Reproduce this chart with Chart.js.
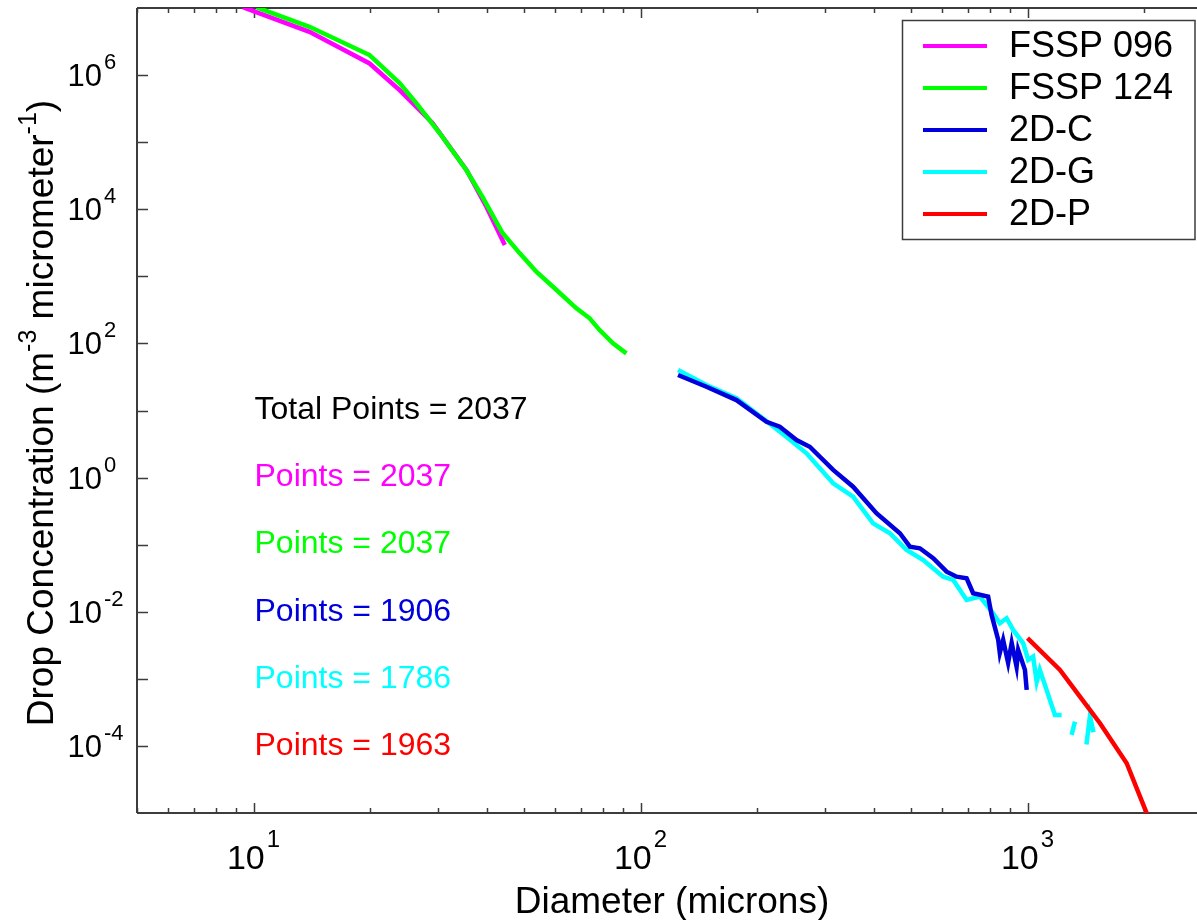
<!DOCTYPE html>
<html>
<head>
<meta charset="utf-8">
<script src="https://cdn.jsdelivr.net/npm/chart.js@4.4.1/dist/chart.umd.min.js"></script>
<style>
html,body{margin:0;padding:0;background:#fff;overflow:hidden;}
#c{display:block;}
</style>
</head>
<body>
<canvas id="c" width="1197" height="920"></canvas>
<script>
// ---- data ----
const seriesLabels = ['FSSP 096', 'FSSP 124', '2D-C', '2D-G', '2D-P'];
const seriesColors = ['#FF00FF', '#00FF00', '#0000DD', '#00FFFF', '#FF0000'];
const pointCounts = [2037, 2037, 1906, 1786, 1963];
const totalPoints = 2037;

const diamFSSP096 = [9.4, 9.57, 13.95, 19.95, 23.85, 29.0, 35.5, 40.0, 44.6];
const concFSSP096 = [1.03e7, 9.87e6, 4.42e6, 1.49e6, 5.97e5, 1.93e5, 3.84e4, 1.08e4, 2.93e3];

const diamFSSP124 = [10.2, 10.36, 13.95, 19.95, 23.85, 26.34, 30.26, 35.47, 39.08, 44.0, 48.7, 53.8, 59.4, 68.3, 73.9, 78.4, 84.9, 91.9];
const concFSSP124 = [1.03e7, 9.87e6, 5.25e6, 1.99e6, 7.6e5, 3.83e5, 1.37e5, 3.84e4, 1.52e4, 4.42e3, 2.22e3, 1.17e3, 700, 334, 237, 158, 100, 71];

const diam2DC = [125, 148, 177, 211.6, 229, 253, 273.7, 314.6, 354.2, 407, 468, 496.6, 527, 570.5, 617.9, 655.6, 696, 723.6, 791, 807.5, 840, 848, 865, 891, 910, 937, 946, 984.7, 995];
const conc2DC = [33.8, 22.6, 14.3, 6.80, 5.74, 3.63, 2.88, 1.30, 0.731, 0.294, 0.148, 0.0933, 0.0883, 0.0627, 0.0396, 0.0333, 0.0316, 0.0189, 0.0168, 0.00896, 0.0038, 0.00243, 0.0038, 0.00173, 0.00343, 0.00152, 0.0027, 0.00136, 0.000684];

const diam2DG = [125, 148, 177, 207, 238, 268.5, 314.6, 354.2, 399, 441, 487, 537.6, 605.5, 642.7, 696, 753, 815, 848, 883, 918, 975, 1004, 1034, 1056, 1076, 1120, 1177, 1225, 1262, 1300, 1326, 1365, 1420, 1450, 1480];
const conc2DG = [40.2, 24.0, 15.2, 7.65, 4.07, 2.30, 0.822, 0.519, 0.208, 0.148, 0.0834, 0.0591, 0.0333, 0.0298, 0.0150, 0.0168, 0.0095, 0.00675, 0.0080, 0.00536, 0.00339, 0.00191, 0.00214, 0.000908, 0.00136, 0.000684, 0.00029, 0.00029, null, 0.000146, 0.00023, null, 0.000105, 0.00028, 0.00016];

const diam2DP = [1000, 1213, 1366, 1539, 1804, 2032, 2060];
const conc2DP = [0.00403, 0.00136, 0.000543, 0.000218, 5.52e-5, 9.9e-6, 7.0e-6];

const xRange = [5, 2741];
const yRange = [1e-5, 1e7];
const xMajorExponents = [1, 2, 3];
const yTickExponents = [-5, -4, -3, -2, -1, 0, 1, 2, 3, 4, 5, 6, 7];
const yLabelExponents = [-4, -2, 0, 2, 4, 6];
const xTitle = 'Diameter (microns)';
const yTitleParts = [['Drop Concentration (m', false], ['-3', true], [' micrometer', false], ['-1', true], [')', false]];

// ---- build datasets ----
function pts(xs, ys) { return xs.map((x, i) => ({x: x, y: ys[i]})); }
const allX = [diamFSSP096, diamFSSP124, diam2DC, diam2DG, diam2DP];
const allY = [concFSSP096, concFSSP124, conc2DC, conc2DG, conc2DP];
// lower "order" is drawn on top
const drawOrder = [2, 1, 3, 4, 0];
const datasets = seriesLabels.map((lab, i) => ({
  label: lab,
  data: pts(allX[i], allY[i]),
  borderColor: seriesColors[i],
  backgroundColor: seriesColors[i],
  borderWidth: 4.5,
  pointRadius: 0,
  tension: 0,
  spanGaps: false,
  fill: false,
  clip: 0,
  order: drawOrder[i]
}));

const FONT = 'Arial, "Liberation Sans", Helvetica, sans-serif';
const AXIS_COLOR = '#3c3c3c';

const axesPlugin = {
  id: 'axesPlugin',
  beforeDatasetsDraw(chart) {
    const ctx = chart.ctx, a = chart.chartArea;
    const xs = chart.scales.x, ys = chart.scales.y;
    ctx.save();
    ctx.strokeStyle = AXIS_COLOR;
    ctx.lineWidth = 2;
    ctx.beginPath();
    ctx.moveTo(a.left, a.top); ctx.lineTo(a.right + 2, a.top);
    ctx.moveTo(a.left, a.top); ctx.lineTo(a.left, a.bottom);
    ctx.moveTo(a.left, a.bottom); ctx.lineTo(a.right + 2, a.bottom);
    ctx.stroke();
    ctx.lineWidth = 1.5;
    ctx.beginPath();
    yTickExponents.forEach(e => {
      const py = Math.round(ys.getPixelForValue(Math.pow(10, e))) + 0.5;
      if (py < a.top + 1 || py > a.bottom - 1) return;
      ctx.moveTo(a.left, py); ctx.lineTo(a.left + 11, py);
    });
    for (let d = 0; d <= 3; d++) {
      for (let m = 1; m <= 9; m++) {
        const v = m * Math.pow(10, d);
        if (v < xRange[0] || v > xRange[1]) continue;
        const px = Math.round(xs.getPixelForValue(v)) + 0.5;
        const len = (m === 1) ? 10 : 5;
        ctx.moveTo(px, a.bottom); ctx.lineTo(px, a.bottom - len);
        ctx.moveTo(px, a.top); ctx.lineTo(px, a.top + len);
      }
    }
    ctx.stroke();
    ctx.restore();
  },
  afterDraw(chart) {
    const ctx = chart.ctx;
    const xs = chart.scales.x, ys = chart.scales.y;
    ctx.save();
    ctx.fillStyle = '#000';
    ctx.textBaseline = 'alphabetic';
    yLabelExponents.forEach(e => {
      const py = ys.getPixelForValue(Math.pow(10, e));
      ctx.font = '31px ' + FONT;
      ctx.textAlign = 'right';
      ctx.fillText('10', 102, py + 11);
      ctx.font = '22px ' + FONT;
      ctx.textAlign = 'left';
      ctx.fillText(String(e), 104, py - 6);
    });
    xMajorExponents.forEach(e => {
      const px = xs.getPixelForValue(Math.pow(10, e));
      ctx.font = '34px ' + FONT;
      const w1 = ctx.measureText('10').width;
      ctx.font = '24px ' + FONT;
      const w2 = ctx.measureText(String(e)).width;
      const start = px - (w1 + 2 + w2) / 2;
      ctx.textAlign = 'left';
      ctx.font = '34px ' + FONT;
      ctx.fillText('10', start, 869);
      ctx.font = '24px ' + FONT;
      ctx.fillText(String(e), start + w1 + 2, 847);
    });
    ctx.font = '37px ' + FONT;
    ctx.textAlign = 'center';
    ctx.fillText(xTitle, 672, 913);
    ctx.save();
    ctx.translate(53, 413);
    ctx.rotate(-Math.PI / 2);
    let total = 0;
    yTitleParts.forEach(p => {
      ctx.font = (p[1] ? '25px ' : '37px ') + FONT;
      total += ctx.measureText(p[0]).width;
    });
    let cx = -total / 2;
    ctx.textAlign = 'left';
    yTitleParts.forEach(p => {
      ctx.font = (p[1] ? '25px ' : '37px ') + FONT;
      ctx.fillText(p[0], cx, p[1] ? -17 : 0);
      cx += ctx.measureText(p[0]).width;
    });
    ctx.restore();
    const ax = xs.getPixelForValue(10);
    ctx.font = '32px ' + FONT;
    ctx.textAlign = 'left';
    ctx.textBaseline = 'middle';
    ctx.fillStyle = '#000';
    ctx.fillText('Total Points = ' + totalPoints, ax + 1, ys.getPixelForValue(10));
    pointCounts.forEach((n, i) => {
      ctx.fillStyle = seriesColors[i];
      ctx.fillText('Points = ' + n, ax + 1, ys.getPixelForValue(Math.pow(10, -i)));
    });
    ctx.fillStyle = '#fff';
    ctx.fillRect(902, 20, 293, 219);
    ctx.strokeStyle = AXIS_COLOR;
    ctx.lineWidth = 1.5;
    ctx.strokeRect(902.5, 20.5, 292.5, 219);
    seriesLabels.forEach((lab, i) => {
      const ry = 46 + i * 42;
      ctx.strokeStyle = seriesColors[i];
      ctx.lineWidth = 4;
      ctx.beginPath();
      ctx.moveTo(923, ry); ctx.lineTo(987, ry);
      ctx.stroke();
      ctx.fillStyle = '#000';
      ctx.font = '36px ' + FONT;
      ctx.textBaseline = 'middle';
      ctx.fillText(lab, 1009, ry + 1);
    });
    ctx.restore();
  }
};

new Chart(document.getElementById('c'), {
  type: 'line',
  data: { datasets: datasets },
  options: {
    responsive: false,
    animation: false,
    devicePixelRatio: 1,
    layout: { padding: { left: 137, top: 8, right: 0, bottom: 107 } },
    plugins: { legend: { display: false }, tooltip: { enabled: false }, title: { display: false } },
    scales: {
      x: { type: 'logarithmic', min: xRange[0], max: xRange[1], display: false },
      y: { type: 'logarithmic', min: yRange[0], max: yRange[1], display: false }
    }
  },
  plugins: [axesPlugin]
});
</script>
</body>
</html>
